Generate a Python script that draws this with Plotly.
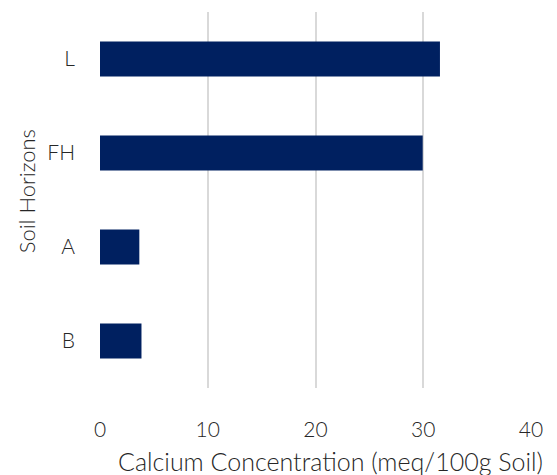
import plotly.graph_objects as go

horizons = ["L", "FH", "A", "B"]
calcium = [31.55, 29.95, 3.65, 3.85]
x_ticks = [0, 10, 20, 30, 40]
x_title = "Calcium Concentration (meq/100g Soil)"
y_title = "Soil Horizons"

FONT = "Lato"
TXT = "#262626"
FS = 21
W = 300

fig = go.Figure(go.Bar(
    x=calcium, y=horizons, orientation="h",
    marker=dict(color="#002060", line=dict(width=0)),
    width=0.37,
))

fig.update_layout(
    width=549, height=467,
    margin=dict(l=92, r=26, t=4, b=87, autoexpand=False),
    paper_bgcolor="white", plot_bgcolor="white",
    font=dict(family=FONT, color=TXT, size=FS, weight=W),
    showlegend=False,
    xaxis=dict(
        range=[0, 40], tickvals=x_ticks, showgrid=True,
        gridcolor="#d9d9d9", gridwidth=1.5, zeroline=False,
        showline=False, ticks="", ticklabelstandoff=27,
        tickfont=dict(size=FS, color=TXT, weight=W),
        automargin=False,
    ),
    yaxis=dict(
        categoryorder="array", categoryarray=horizons[::-1],
        showgrid=False, zeroline=False, showline=False, ticks="",
        ticklabelstandoff=24, automargin=False,
        tickfont=dict(size=FS, color=TXT, weight=W),
    ),
    annotations=[
        dict(text=x_title, xref="paper", yref="paper", x=0.534, y=-0.193,
             xanchor="center", yanchor="middle", showarrow=False,
             font=dict(family=FONT, size=25, color=TXT, weight=W)),
        dict(text=y_title, xref="paper", yref="paper", x=-0.172, y=0.523,
             xanchor="center", yanchor="middle", showarrow=False, textangle=-90,
             font=dict(family=FONT, size=22, color=TXT, weight=W)),
    ],
)

fig.write_html("out.html")
